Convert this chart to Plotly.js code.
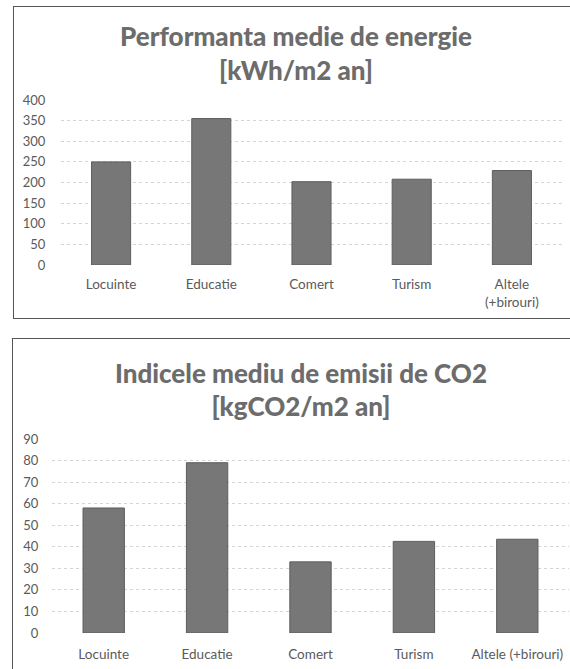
<!DOCTYPE html>
<html>
<head>
<meta charset="utf-8">
<script src="https://cdn.plot.ly/plotly-3.0.1.min.js"></script>
<style>
  html, body { margin: 0; padding: 0; width: 570px; height: 669px; overflow: hidden; background: #fff; }
  .frame { position: absolute; border: 1px solid #555; box-sizing: border-box; }
  .plot { position: absolute; left: 0; }
</style>
</head>
<body>
<div class="frame" style="left:13px; top:6px; width:600px; height:313px;"></div>
<div class="frame" style="left:12px; top:338px; width:600px; height:360px;"></div>
<div id="energy" class="plot" style="top:0px; width:570px; height:320px;"></div>
<div id="co2" class="plot" style="top:330px; width:570px; height:339px;"></div>
<script>
// Data
const energyCategories = ["Locuinte", "Educatie", "Comert", "Turism", "Altele<br>(+birouri)"];
const energyValues = [250, 355, 202, 208, 229];
const energyTitle = "Performanta medie de energie<br>[kWh/m2 an]";

const co2Categories = ["Locuinte", "Educatie", "Comert", "Turism", "Altele (+birouri)"];
const co2Values = [58, 79, 33, 42.5, 43.5];
const co2Title = "Indicele mediu de emisii de CO2<br>[kgCO2/m2 an]";

const FONT = "Lato, 'Open Sans', sans-serif";
const barColor = "#777777";

function makeChart(id, cats, vals, title, opts) {
  const trace = {
    type: "bar",
    x: cats,
    y: vals,
    width: opts.barWidth,
    marker: { color: barColor, line: { color: "#5e5e5e", width: 1 } },
    hoverinfo: "x+y"
  };
  const layout = {
    width: 570,
    height: opts.height,
    paper_bgcolor: "rgba(0,0,0,0)",
    plot_bgcolor: "rgba(0,0,0,0)",
    margin: opts.margin,
    showlegend: false,
    title: {
      text: title,
      font: { family: FONT, size: opts.titleSize, color: "#6c6c6c", weight: 900 },
      x: opts.titleX, xref: "container", xanchor: "center",
      y: opts.titleY, yref: "container", yanchor: "middle"
    },
    xaxis: {
      type: "category",
      range: [-0.5, 4.5],
      showgrid: false,
      showline: false,
      zeroline: false,
      ticks: "outside",
      ticklen: opts.xTickLen,
      tickcolor: "rgba(0,0,0,0)",
      tickfont: { family: FONT, size: 13.5, color: "#5a5a5a" },
      tickangle: 0
    },
    yaxis: {
      range: opts.yRange,
      dtick: opts.dtick,
      showgrid: true,
      gridcolor: "#d4d4d4",
      griddash: "dot",
      gridwidth: 1,
      showline: false,
      zeroline: false,
      ticks: "outside",
      ticklen: opts.yTickLen,
      tickcolor: "rgba(0,0,0,0)",
      tickfont: { family: FONT, size: 13, color: "#5a5a5a" }
    }
  };
  Plotly.newPlot(id, [trace], layout, { staticPlot: true, displayModeBar: false });
}

makeChart("energy", energyCategories, energyValues, energyTitle, {
  height: 320,
  margin: { l: 61, r: 8, t: 100, b: 55 },
  barWidth: 0.39,
  titleSize: 26,
  titleX: 296 / 570,
  titleY: 1 - 46 / 320,
  yRange: [0, 400],
  dtick: 50,
  xTickLen: 7,
  yTickLen: 12
});

makeChart("co2", co2Categories, co2Values, co2Title, {
  height: 339,
  margin: { l: 52, r: 1, t: 109, b: 36 },
  barWidth: 0.4,
  titleSize: 26,
  titleX: 301 / 570,
  titleY: 1 - 52.5 / 339,
  yRange: [0, 90],
  dtick: 10,
  xTickLen: 9,
  yTickLen: 10
});
</script>
</body>
</html>
